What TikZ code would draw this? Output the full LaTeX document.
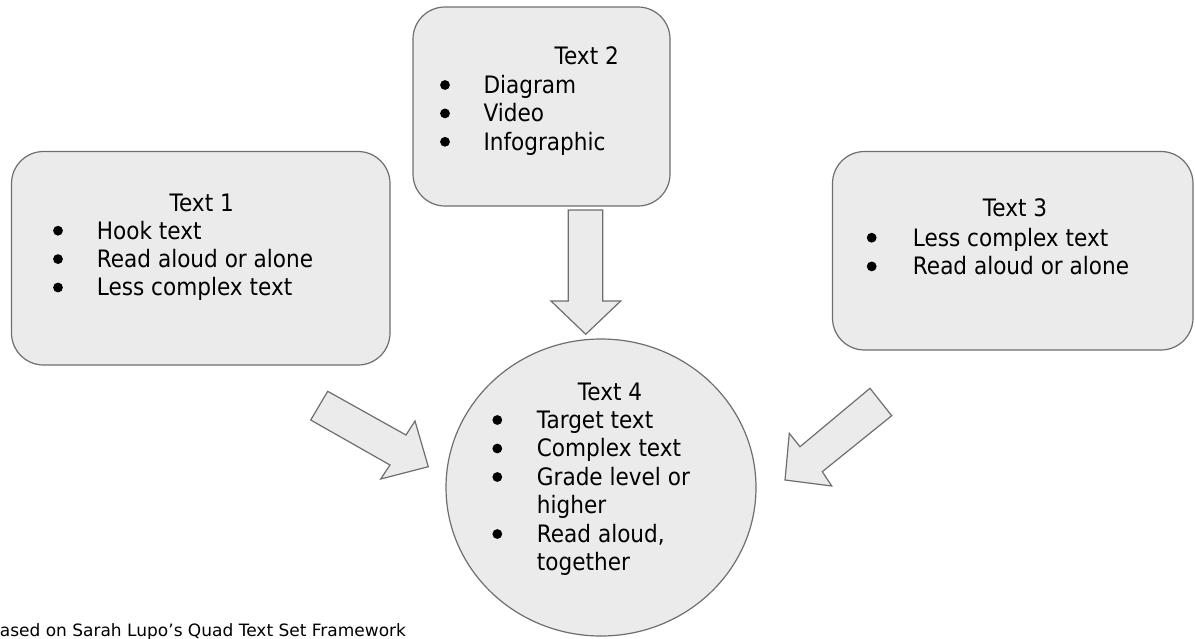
\documentclass[tikz,border=0pt]{standalone}
\usepackage{fontspec}
\setmainfont{DejaVu Sans}[FakeStretch=0.9]
\newfontfamily\notefont{DejaVu Sans}
\usetikzlibrary{shapes.geometric}

\definecolor{panelfill}{HTML}{EBEBEB}
\definecolor{panelline}{HTML}{6E6E6E}

\tikzset{
  panel/.style={draw=panelline, fill=panelfill, line width=1.2pt, rounded corners=32pt},
  hub/.style={ellipse, draw=panelline, fill=panelfill, line width=1.2pt, inner sep=0pt},
  fatarrow/.style={draw=panelline, fill=panelfill, line width=1.2pt, line join=miter},
  heading/.style={anchor=base, inner sep=0pt, font=\fontsize{24}{28}\selectfont},
  entry/.style={anchor=base west, inner sep=0pt, font=\fontsize{24}{28}\selectfont},
}

\begin{document}
\begin{tikzpicture}[x=1pt, y=-1pt]
\useasboundingbox (0,0) rectangle (1195,638);
\clip (0,0) rectangle (1195,638);

% boxes and the circle in the middle
\node[panel, minimum width=378.5pt, minimum height=213.5pt] (text1) at (200.75,258.25) {};
\node[panel, minimum width=257pt, minimum height=199pt] (text2) at (541.5,106.5) {};
\node[panel, minimum width=360.5pt, minimum height=198.5pt] (text3) at (1012.75,250.75) {};
\node[hub, minimum width=310pt, minimum height=297pt] (text4) at (601,487.5) {};

% block arrows into the circle
\draw[fatarrow] (568.3,210) -- (602.7,210) -- (602.7,301) -- (620.7,301) -- (585.7,334.3)
  -- (551,301) -- (568.3,301) -- cycle;
\draw[fatarrow] (327.7,391.3) -- (406,435) -- (415,421) -- (428.3,466.7) -- (380.7,479)
  -- (390,465) -- (310.7,420) -- cycle;
\draw[fatarrow] (870,388.3) -- (891.7,415.7) -- (822.3,471.7) -- (831.7,486) -- (785,480)
  -- (789.3,433.3) -- (800,446.7) -- cycle;

% Text 1
\node[heading] (title1) at (201.7,211) {Text 1};
\foreach \line [count=\i from 0] in {Hook text, Read aloud or alone, Less complex text} {
  \fill (58,{230.7+28.4*\i}) circle (4.9pt);
  \node[entry] (item1-\i) at (96.7,{239+28.4*\i}) {\line};
}

% Text 2
\node[heading] (title2) at (586.7,64.3) {Text 2};
\foreach \line [count=\i from 0] in {Diagram, Video, Infographic} {
  \fill (445,{85+28.4*\i}) circle (4.9pt);
  \node[entry] (item2-\i) at (483.3,{93.3+28.4*\i}) {\line};
}

% Text 3
\node[heading] (title3) at (1015,216.7) {Text 3};
\foreach \line [count=\i from 0] in {Less complex text, Read aloud or alone} {
  \fill (871.7,{237.7+28.7*\i}) circle (4.9pt);
  \node[entry] (item3-\i) at (912.7,{246+28.7*\i}) {\line};
}

% Text 4, some entries run on to a second line
\node[heading] (title4) at (610,400) {Text 4};
\foreach \line/\mark [count=\i from 0] in {Target text/1, Complex text/1, Grade level or/1,
    higher/0, {Read aloud,}/1, together/0} {
  \ifnum\mark=1 \fill (497.3,{420+28.5*\i}) circle (4.9pt); \fi
  \node[entry] (item4-\i) at (536.7,{428.3+28.5*\i}) {\line};
}

\node[anchor=base west, inner sep=0pt, font=\notefont\fontsize{17}{20}\selectfont] (source)
  at (-12,636) {Based on Sarah Lupo’s Quad Text Set Framework};
\end{tikzpicture}
\end{document}
